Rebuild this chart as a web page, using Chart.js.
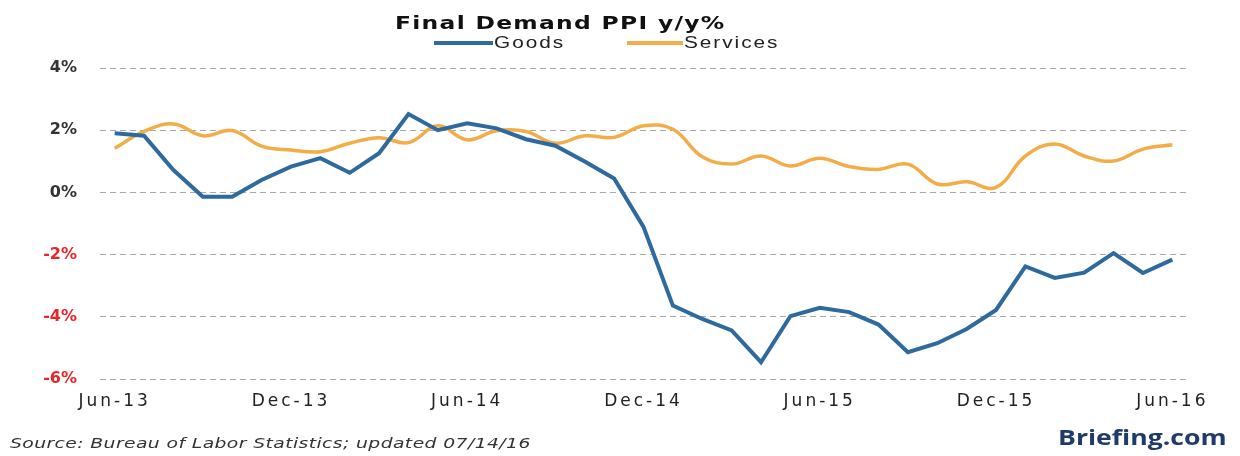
<!DOCTYPE html>
<html>
<head>
<meta charset="utf-8">
<script src="https://cdn.jsdelivr.net/npm/chart.js@4.4.1/dist/chart.umd.min.js"></script>
<style>
  html, body { margin: 0; padding: 0; background: #fff; }
  #wrap { position: relative; width: 1240px; height: 456px; overflow: hidden; }
  #wrap canvas { position: absolute; left: 0; top: 0; }
  .txt { position: absolute; white-space: nowrap; transform-origin: left center; }
  #title { left: 395px; top: 12px; font: bold 18px "DejaVu Sans"; color: #111; letter-spacing: 1px; transform: scaleX(1.3); }
  .leg { top: 34px; font: 16px "Liberation Sans"; color: #222; letter-spacing: 1.5px; transform: scaleX(1.3); }
  .sw { position: absolute; top: 41px; height: 4px; }
  #source { left: 10px; top: 435px; font: italic 14px "DejaVu Sans"; color: #333; letter-spacing: 0.3px; transform: scaleX(1.34); }
  #brand { left: 1058px; top: 421px; font: bold 22px "Open Sans"; color: #1f3b69; transform: scaleX(1.21); }
</style>
</head>
<body>
<div id="wrap">
  <canvas id="ppiChart" width="1240" height="456"></canvas>
  <div id="title" class="txt">Final Demand PPI y/y%</div>
  <div class="sw" style="left:434px;width:59px;background:#2e6a9e"></div>
  <div class="txt leg" style="left:494px">Goods</div>
  <div class="sw" style="left:627px;width:56px;background:#f2ad48"></div>
  <div class="txt leg" style="left:684px">Services</div>
  <div id="source" class="txt">Source: Bureau of Labor Statistics; updated 07/14/16</div>
  <div id="brand" class="txt">Briefing.com</div>
</div>
<script>
/* ─── Data (y/y %, monthly Jun-13 .. Jun-16) ─── */
const months = [
  "Jun-13","Jul-13","Aug-13","Sep-13","Oct-13","Nov-13","Dec-13",
  "Jan-14","Feb-14","Mar-14","Apr-14","May-14","Jun-14",
  "Jul-14","Aug-14","Sep-14","Oct-14","Nov-14","Dec-14",
  "Jan-15","Feb-15","Mar-15","Apr-15","May-15","Jun-15",
  "Jul-15","Aug-15","Sep-15","Oct-15","Nov-15","Dec-15",
  "Jan-16","Feb-16","Mar-16","Apr-16","May-16","Jun-16"
];
const goods = [
  1.9, 1.82, 0.72, -0.14, -0.14, 0.4, 0.83,
  1.1, 0.63, 1.26, 2.52, 2.0, 2.22,
  2.06, 1.71, 1.5, 0.99, 0.45, -1.11,
  -3.64, -4.07, -4.44, -5.46, -3.98, -3.71,
  -3.85, -4.25, -5.14, -4.85, -4.39, -3.78,
  -2.38, -2.75, -2.58, -1.95, -2.59, -2.16
];
const services = [
  1.42, 1.96, 2.2, 1.82, 1.99, 1.49, 1.36,
  1.31, 1.58, 1.76, 1.6, 2.14, 1.69,
  1.98, 1.96, 1.58, 1.82, 1.77, 2.14,
  2.03, 1.15, 0.91, 1.17, 0.85, 1.1,
  0.83, 0.74, 0.91, 0.27, 0.34, 0.16,
  1.17, 1.56, 1.17, 1.01, 1.39, 1.53
];
const yTicks = [-6, -4, -2, 0, 2, 4];

/* ─── y labels plain, x labels (ticks.z:1, drawn after the lines) spaced out ─── */
const spacing = {
  id: "spacing",
  beforeDraw(chart) { chart.ctx.letterSpacing = "0px"; },
  afterDatasetsDraw(chart) { chart.ctx.letterSpacing = "3px"; },
  afterDraw(chart) { chart.ctx.letterSpacing = "0px"; },
};

new Chart(document.getElementById("ppiChart"), {
  type: "line",
  data: {
    labels: months,
    datasets: [
      {
        label: "Goods",
        data: goods,
        borderColor: "#2e6a9e",
        borderWidth: 4,
        pointRadius: 0,
        tension: 0,
      },
      {
        label: "Services",
        data: services,
        borderColor: "#f2ad48",
        borderWidth: 3.5,
        pointRadius: 0,
        tension: 0.4,
      },
    ],
  },
  options: {
    responsive: false,
    animation: false,
    layout: { padding: { left: 0, right: 53, top: 68, bottom: 0 } },
    plugins: { legend: { display: false }, title: { display: false }, tooltip: { enabled: false } },
    scales: {
      x: {
        offset: true,
        grid: { display: false, drawTicks: false },
        border: { display: false },
        afterFit(s) { s.height = 77; },
        ticks: {
          z: 1,
          autoSkip: false, maxRotation: 0, padding: 12,
          color: "#222",
          font: { family: "DejaVu Sans", size: 17 },
          callback: (v, i) => (i % 6 === 0 ? months[i] : ""),
        },
      },
      y: {
        min: -6, max: 4,
        afterFit(s) { s.width = 100; },
        afterBuildTicks(s) { s.ticks = yTicks.map(v => ({ value: v })); },
        grid: { color: "#a8a8a8", lineWidth: 1, drawTicks: false },
        border: { display: false, dash: [6, 4] },
        ticks: {
          padding: 23,
          font: { family: "DejaVu Sans", size: 16, weight: "bold" },
          color: ctx => (ctx.tick.value < 0 ? "#e8262b" : "#333"),
          callback: v => v + "%",
        },
      },
    },
  },
  plugins: [spacing],
});
</script>
</body>
</html>
